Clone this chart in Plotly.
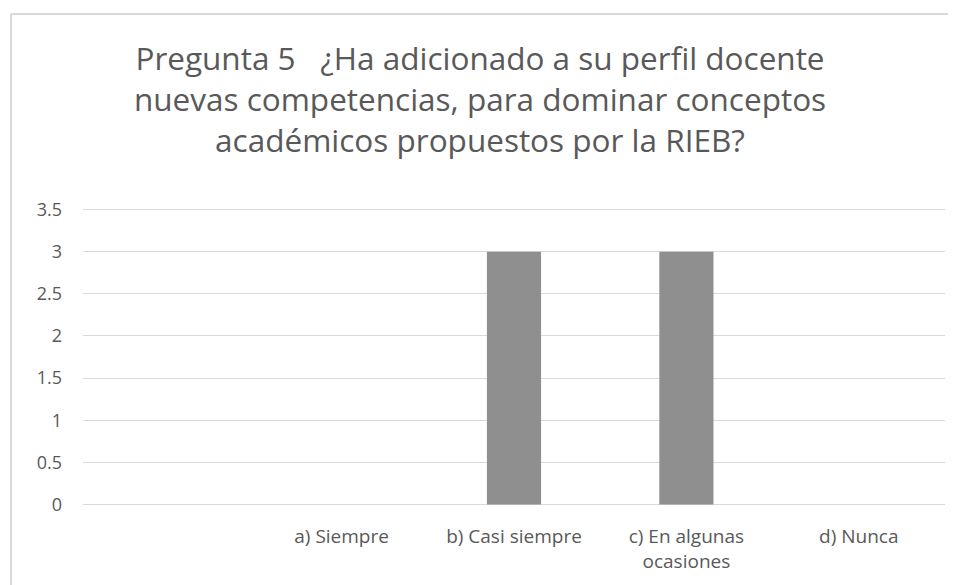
import plotly.graph_objects as go

#########
# DATA  #
#########

CATEGORIES = [" ", "a) Siempre", "b) Casi siempre", "c) En algunas<br>ocasiones", "d) Nunca"]
VALUES = [None, 0, 3, 3, 0]
Y_TICKS = [0, 0.5, 1, 1.5, 2, 2.5, 3, 3.5]

TITLE = (
    "Pregunta 5   ¿Ha adicionado a su perfil docente<br>"
    "nuevas competencias, para dominar conceptos<br>"
    "académicos propuestos por la RIEB?"
)

##########
# STYLES #
##########

FONT = "Open Sans"
TEXT_COLOR = "#595959"
GRID_COLOR = "#d9d9d9"
BAR_COLOR = "#8f8f8f"

# the page body adds 8px around the figure
W, H = 948, 577
MARGIN = {"l": 75, "r": 11, "t": 199, "b": 78}
PLOT_W = W - MARGIN["l"] - MARGIN["r"]
PLOT_H = H - MARGIN["t"] - MARGIN["b"]

# chart-area frame (top-left corner of the Excel chart box)
FRAME_X = (3 - MARGIN["l"]) / PLOT_W
FRAME_Y = 1 + (MARGIN["t"] - 6) / PLOT_H

##########
# FIGURE #
##########

fig = go.Figure(
    go.Bar(
        x=CATEGORIES,
        y=VALUES,
        marker={"color": BAR_COLOR, "line": {"width": 0}},
        hoverinfo="x+y",
    )
)

fig.update_layout(
    width=W,
    height=H,
    margin=MARGIN,
    paper_bgcolor="white",
    plot_bgcolor="white",
    bargap=0.686,
    showlegend=False,
    font={"family": FONT, "color": TEXT_COLOR},
    title={
        "text": TITLE,
        "x": 0.5 - 2 / W,
        "xref": "container",
        "xanchor": "center",
        "y": 1 - 62 / H,
        "yref": "container",
        "yanchor": "top",
        "font": {"family": FONT, "size": 31.5, "color": TEXT_COLOR},
    },
    shapes=[
        {
            "type": "line", "xref": "paper", "yref": "paper",
            "x0": FRAME_X, "x1": FRAME_X, "y0": FRAME_Y, "y1": -0.5,
            "line": {"color": GRID_COLOR, "width": 2},
        },
        {
            "type": "line", "xref": "paper", "yref": "paper",
            "x0": FRAME_X, "x1": 1.2, "y0": FRAME_Y, "y1": FRAME_Y,
            "line": {"color": GRID_COLOR, "width": 2},
        },
    ],
)

fig.update_xaxes(
    type="category",
    showgrid=False,
    showline=False,
    zeroline=False,
    ticks="",
    ticklabelstandoff=16,
    tickfont={"size": 19, "color": TEXT_COLOR},
)

fig.update_yaxes(
    range=[-0.03, 3.53],
    tickvals=Y_TICKS,
    ticktext=[f"{v:g}" for v in Y_TICKS],
    showgrid=True,
    gridcolor=GRID_COLOR,
    gridwidth=1,
    zeroline=False,
    showline=False,
    ticks="",
    ticklabelstandoff=20,
    tickfont={"size": 18, "color": TEXT_COLOR},
)

fig.write_html("out.html")
